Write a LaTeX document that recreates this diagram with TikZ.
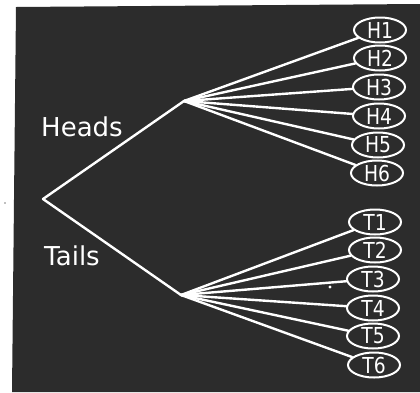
\documentclass[tikz,border=0pt]{standalone}
\usepackage{fontspec}
\setmainfont{DejaVu Sans}
\newfontfamily\leaffont{DejaVu Sans}[FakeStretch=0.85]
\definecolor{bg}{HTML}{2C2C2C}
\tikzset{
  branch/.style={draw=white, line width=2.4pt, line cap=round, line join=round},
  leaf/.style={ellipse, draw=white, line width=2pt, minimum width=52pt, minimum height=25pt, inner sep=0pt, text=white, font=\leaffont\fontsize{22}{22}\selectfont},
  label/.style={text=white, font=\fontsize{26}{26}\selectfont, inner sep=0pt},
  pt/.style={inner sep=0pt, minimum size=0pt}
}
\usetikzlibrary{shapes.geometric}
\begin{document}
\begin{tikzpicture}[x=1pt, y=-1pt]
\useasboundingbox (0,0) rectangle (420,392);
\fill[white] (0,0) rectangle (420,392);
\fill[bg] (16,7) -- (420,4) -- (420,392) -- (12,392) -- cycle;
\fill[gray] (5,203) circle (0.8);
% nodes
\coordinate (root) at (43,199);
\coordinate (hb) at (184,101);
\coordinate (tb) at (181,295);
\node[leaf] (H1) at (380,30) {H1};
\node[leaf] (H2) at (380,58) {H2};
\node[leaf] (H3) at (379,87) {H3};
\node[leaf] (H4) at (379,116) {H4};
\node[leaf] (H5) at (378,145) {H5};
\node[leaf] (H6) at (377,173) {H6};
\node[leaf] (T1) at (375,222) {T1};
\node[leaf] (T2) at (375,250) {T2};
\node[leaf] (T3) at (373,279) {T3};
\node[leaf] (T4) at (373,308) {T4};
\node[leaf] (T5) at (373,336) {T5};
\node[leaf] (T6) at (374,365) {T6};
\node[label] (heads) at (82,127) {Heads};
\node[label] (tails) at (72,256) {Tails};
% connectors
\draw[branch] (tb) -- (root) -- (hb);
\foreach \n in {H1,H2,H3,H4,H5,H6} \draw[branch] (hb) -- (\n);
\foreach \n in {T1,T2,T3,T4,T5,T6} \draw[branch] (tb) -- (\n);
\fill[white] (330,287) circle (1.6);
\end{tikzpicture}
\end{document}
